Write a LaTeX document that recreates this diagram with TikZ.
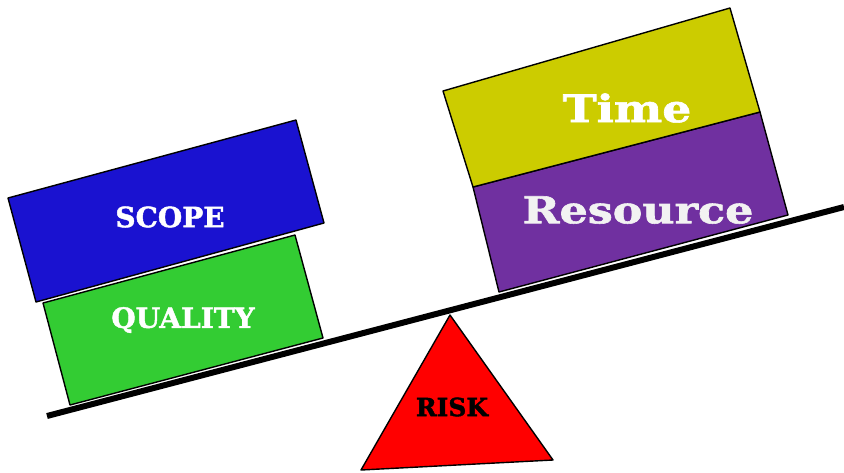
\documentclass[tikz,border=0pt]{standalone}
\usepackage{fontspec}
\usepackage{graphicx}
\newfontfamily\slabfont{DejaVu Serif}[BoldFont={DejaVu Serif Bold}, BoldFeatures={FakeBold=1.5}]

\definecolor{scopeblue}{HTML}{1A12D0}
\definecolor{qualgreen}{HTML}{33CC33}
\definecolor{timeyellow}{HTML}{CCCC00}
\definecolor{respurple}{HTML}{7030A0}
\definecolor{riskred}{HTML}{FF0000}

\tikzset{
	block/.style={draw=black, line width=1.4pt, line join=round},
	tag/.style={text=white, font=\slabfont\bfseries\fontsize{#1}{#1}\selectfont, inner sep=0pt},
}
\newcommand{\wide}[1]{\scalebox{1.2}[1]{#1}}

\begin{document}
\begin{tikzpicture}[x=1pt, y=-1pt]
\useasboundingbox (0,0) rectangle (844,472);

% the lever
\draw[line width=6pt] (47,416) -- (844,207);

% fulcrum
\draw[block, fill=riskred] (450,315) -- (553,460) -- (361,470) -- cycle;
\node[tag=25, text=black] (risk) at (452,407) {RISK};

% left side
\draw[block, fill=qualgreen] (43,303) -- (295,235) -- (323,338) -- (70,405) -- cycle;
\draw[block, fill=scopeblue] (8,198) -- (296,120) -- (324,223) -- (36,302) -- cycle;
\node[tag=28] (scope) at (170,217) {SCOPE};
\node[tag=28] (quality) at (183,320) {QUALITY};

% right side
\draw[block, fill=respurple] (473,187) -- (760,112) -- (788,215) -- (499,292) -- cycle;
\draw[block, fill=timeyellow] (443,91) -- (730,8) -- (760,112) -- (473,187) -- cycle;
\node[tag=38] (time) at (627,108) {\wide{Time}};
\node[tag=37, text=white!95!black] (resource) at (638,210) {\wide{Resource}};
\end{tikzpicture}
\end{document}
